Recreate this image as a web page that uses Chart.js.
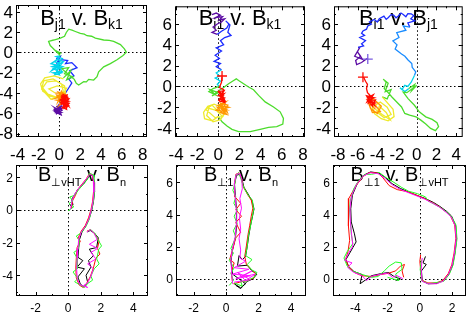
<!DOCTYPE html>
<html>
<head>
<meta charset="utf-8">
<script src="https://cdn.jsdelivr.net/npm/chart.js@4.4.0/dist/chart.umd.min.js"></script>
<style>
  html, body { margin: 0; padding: 0; background: #fff; }
  #wrap { position: relative; width: 469px; height: 318px; overflow: hidden; }
  canvas { position: absolute; left: 0; top: 0; }
</style>
</head>
<body>
<div id="wrap">
  <canvas id="c1" width="469" height="318"></canvas>
  <canvas id="c2" width="469" height="318"></canvas>
  <canvas id="c3" width="469" height="318"></canvas>
  <canvas id="c4" width="469" height="318"></canvas>
  <canvas id="c5" width="469" height="318"></canvas>
  <canvas id="c6" width="469" height="318"></canvas>
</div>
<script>
// ---- hodogram data, [x, y] pairs ----

// panel 1: Bj1 v. Bk1, one trace split into colour (time) bands
const p1Purple = [[-0.3,-5.3],[0.1,-5.5],[-0.4,-5.7],[0.2,-5.9],[-0.2,-6.0],[-0.5,-5.6],[0.0,-5.4],[0.25,-5.7],[-0.35,-5.9],[-0.1,-5.2],[0.15,-6.05],[-0.45,-5.45],[0.05,-5.75],[-0.25,-5.5],[0.2,-5.35],[-0.4,-5.85],[0.1,-6.1],[-0.15,-5.65],[0.3,-5.55],[-0.5,-5.75],[-0.05,-5.95],[0.2,-5.2],[-0.3,-6.1],[0.0,-5.3]];
const p1Blue = [[0.0,-5.3],[0.4,-4.3],[0.9,-3.5],[1.2,-3.0],[0.9,-2.6],[1.4,-2.3],[1.0,-1.8],[1.7,-1.5],[1.2,-1.0],[0.6,-1.1],[0.8,-0.8],[0.2,-0.7],[-0.2,-1.0],[0.1,-0.4],[-0.3,-0.6],[0.0,-0.5]];
const p1Cyan = [[0.0,-0.5],[-0.5,-0.9],[0.2,-1.1],[-0.7,-1.4],[0.1,-1.6],[-0.4,-1.2],[0.3,-1.9],[-0.6,-2.0],[0.0,-2.2],[-0.3,-1.7],[0.35,-1.4],[-0.8,-1.1],[-0.2,-0.7],[0.4,-0.9],[-0.6,-1.6],[0.2,-2.0],[-0.45,-2.2],[0.1,-1.3],[-0.75,-1.8],[0.3,-0.6],[-0.3,-0.4],[0.1,-0.3]];
const p1Green = [[0.1,-0.3],[-0.3,0.1],[0.2,-0.1],[-0.4,0.2],[-0.87,0.68],[-1.03,1.1],[-0.54,1.23],[0.1,1.42],[0.5,1.6],[0.67,1.97],[0.9,2.3],[1.22,2.2],[1.54,2.07],[2.02,1.88],[2.4,1.8],[2.66,1.65],[3.1,1.6],[3.46,1.42],[4.26,1.23],[4.8,1.2],[5.22,1.1],[5.87,0.78],[6.25,0.36],[6.44,0.03],[6.12,-0.29],[5.54,-0.71],[4.9,-1.1],[4.26,-1.42],[3.78,-1.91],[3.62,-2.39],[3.3,-2.72],[2.82,-2.65],[2.6,-2.9],[2.34,-2.88],[1.86,-3.2],[1.63,-3.04],[1.44,-2.65],[1.06,-2.33],[0.58,-1.91],[0.26,-1.59],[0.9,-1.5],[0.5,-2.1],[1.3,-2.4],[0.7,-2.7],[1.1,-1.8],[0.4,-2.5]];
const p1Yellow = [[0.4,-2.6],[-0.5,-2.3],[-1.4,-2.5],[-1.8,-3.1],[-1.6,-3.8],[-0.9,-4.3],[0.0,-4.5],[0.6,-4.0],[0.5,-3.3],[-0.3,-2.8],[-1.2,-2.9],[-1.6,-3.5],[-1.1,-4.1],[-0.3,-4.4],[0.4,-3.9],[0.2,-3.1],[-0.6,-2.6],[-1.5,-2.8],[-1.7,-3.6],[-0.8,-4.6],[0.3,-4.2],[0.7,-3.5],[-0.2,-3.3],[-1.0,-3.6],[-0.4,-4.0]];
const p1Orange = [[-0.4,-4.0],[0.3,-4.0],[-0.2,-4.3],[0.6,-4.5],[-0.3,-4.7],[0.4,-4.9],[0.0,-5.2],[0.7,-4.2],[-0.1,-3.9],[0.5,-4.7],[0.1,-4.4],[-0.35,-4.5],[0.45,-4.1],[-0.15,-4.9],[0.2,-3.8],[0.65,-4.4],[-0.25,-4.2],[0.3,-5.0]];
const p1Red = [[0.3,-4.1],[0.8,-4.4],[0.2,-4.6],[0.9,-4.8],[0.25,-5.0],[0.85,-5.2],[0.3,-5.4],[0.7,-5.6],[0.5,-4.3],[0.15,-4.9],[0.9,-4.6],[0.4,-5.3],[0.75,-4.2],[0.2,-4.4],[0.6,-5.0],[0.35,-4.7],[0.8,-5.4],[0.5,-4.9],[0.65,-4.5],[0.1,-4.7],[0.95,-5.0],[0.45,-5.5],[0.25,-4.25],[0.85,-4.55],[0.15,-5.15],[0.7,-4.8],[0.4,-4.45],[0.9,-5.3],[0.3,-4.85],[0.6,-5.25],[0.55,-4.15]];

// panel 2: Bi1 v. Bk1
const p2Purple = [[-0.6,6.9],[-0.2,7.05],[0.2,6.85],[-0.3,6.6],[0.4,6.7],[0.1,6.4],[0.6,6.5],[0.3,6.2],[-0.1,6.0],[-0.5,5.7],[-0.2,5.4],[-0.6,5.2],[-0.1,5.0]];
const p2Blue = [[-0.1,5.0],[0.3,5.3],[0.8,5.6],[1.0,6.0],[0.7,6.3],[1.1,5.9],[0.9,5.2],[1.2,4.9],[0.6,4.7],[0.2,4.4],[0.5,4.0],[-0.2,3.7],[0.3,3.4],[-0.3,3.0],[0.1,2.7],[-0.4,2.4],[0.2,2.2],[-0.2,1.9],[0.3,1.6]];
const p2Cyan = [[0.3,1.6],[-0.2,1.3],[0.1,1.0],[-0.3,0.8],[0.2,0.5],[-0.1,0.2],[0.1,0.0]];
const p2Green = [[0.1,0.0],[-0.5,-0.2],[-0.9,-0.5],[-0.3,-0.8],[-0.8,-0.3],[0.0,-0.6],[-0.6,-0.9],[0.2,-0.3],[0.35,-0.22],[0.97,0.25],[1.45,0.57],[1.7,0.73],[1.92,0.57],[2.39,0.25],[2.86,-0.06],[3.33,-0.32],[3.81,-0.86],[4.43,-1.49],[5.22,-1.97],[5.85,-2.44],[6.16,-3.08],[6.1,-3.62],[5.53,-3.87],[4.75,-3.94],[3.96,-4.13],[3.02,-4.35],[1.92,-4.35],[1.29,-4.13],[0.82,-3.81],[0.35,-3.4],[0.03,-2.92]];
const p2Yellow = [[0.0,-2.9],[-0.6,-3.3],[-1.3,-3.1],[-1.4,-2.5],[-1.0,-1.9],[-0.4,-1.7],[0.3,-2.0],[0.6,-2.6],[0.2,-3.2],[-0.5,-3.4],[-1.1,-2.8],[-0.9,-2.1],[-0.2,-2.3],[0.4,-2.9],[-0.3,-3.0],[-1.2,-2.2],[-0.6,-1.8],[0.1,-2.5]];
const p2Orange = [[0.1,-2.5],[0.8,-2.7],[0.3,-2.2],[1.0,-2.0],[0.0,-1.8],[0.7,-1.5],[-0.2,-2.3],[0.6,-2.4],[0.2,-1.6],[0.9,-1.8],[0.4,-2.6],[-0.1,-2.0],[0.75,-2.2],[0.25,-1.9],[0.85,-2.5],[0.4,-1.3]];
const p2Red = [[0.4,-1.3],[0.1,-1.5],[0.6,-1.1],[0.0,-0.9],[0.55,-0.7],[0.1,-1.2],[0.65,-1.4],[0.2,-0.6],[0.5,-0.9],[0.05,-1.35],[0.6,-1.55],[0.15,-0.8],[0.45,-1.2],[0.0,-0.5],[0.55,-0.4],[0.2,-1.0],[0.5,-0.3],[0.1,-0.1],[0.3,0.4],[0.35,0.9]];
const p2Cross = [[0.35,1.0]];

// panel 3: Bi1 v. Bj1
const p3Purple = [[-5.0,2.7],[-5.6,2.3],[-6.1,2.1],[-6.2,2.5],[-5.7,2.9],[-6.0,3.3],[-5.5,2.6],[-6.3,2.9],[-5.8,3.7],[-5.95,3.75]];
const p3Blue = [[-5.95,3.75],[-5.4,3.9],[-5.6,4.1],[-5.2,4.4],[-5.78,4.7],[-5.3,4.9],[-5.6,5.1],[-5.46,5.33],[-5.1,5.5],[-4.97,5.81],[-4.6,6.0],[-4.8,6.2],[-4.31,6.44],[-4.0,6.2],[-3.8,6.5],[-3.33,6.76],[-3.1,6.45],[-2.9,6.6],[-2.6,6.9],[-2.35,6.86],[-2.1,6.6],[-1.9,6.75],[-1.6,7.05],[-1.37,6.92],[-1.1,6.7],[-0.9,7.0],[-0.56,6.98],[-0.3,6.8],[-0.6,6.5],[-0.2,6.3],[-0.9,6.1],[-0.7,5.7]];
const p3Sky = [[-0.7,5.7],[-1.37,5.81],[-1.1,5.4],[-2.03,5.17],[-1.8,4.7],[-2.42,4.38],[-2.0,4.0],[-2.19,3.59],[-1.54,3.11],[-1.2,2.9],[-0.88,2.54],[-0.5,2.2],[-0.46,1.84],[-0.1,1.4],[-0.23,1.05]];
const p3Cyan = [[-0.23,1.05],[-0.56,0.41],[-0.9,0.0],[-1.21,0.1],[-1.5,-0.3],[-1.7,-0.13],[-1.2,-0.5],[-0.8,-0.2]];
const p3Green = [[-0.8,-0.2],[-0.2,0.2],[-0.5,-0.4],[0.0,0.1],[-1.0,-0.6],[-1.37,-0.54],[-0.88,-1.17],[-0.23,-1.81],[0.26,-2.44],[0.92,-2.92],[1.57,-3.17],[2.06,-3.49],[2.22,-3.87],[1.9,-4.25],[1.41,-4.03],[0.92,-3.62],[0.42,-3.24],[-0.07,-2.92],[-0.72,-2.76],[-1.21,-2.6],[-1.54,-1.97],[-2.03,-1.49],[-2.52,-1.02],[-2.9,-0.6],[-3.3,-0.2],[-3.1,0.4],[-3.4,0.7],[-2.9,0.3],[-3.2,-0.5],[-2.6,-0.3],[-3.0,-1.2],[-3.5,-1.0]];
const p3Yellow = [[-3.5,-1.0],[-2.4,-2.2],[-2.3,-2.9],[-2.9,-3.3],[-3.6,-3.1],[-4.3,-2.6],[-4.5,-2.0],[-3.7,-1.5],[-3.0,-2.0],[-2.6,-2.7],[-3.3,-3.0],[-4.0,-2.5],[-3.8,-1.9],[-3.1,-2.5],[-2.7,-3.2],[-3.5,-2.7],[-4.2,-2.2]];
const p3Orange = [[-4.2,-2.2],[-4.9,-1.5],[-4.4,-1.2],[-3.6,-1.9],[-4.0,-2.6],[-4.7,-2.1],[-5.0,-1.3],[-4.3,-1.7],[-3.7,-2.4],[-4.5,-2.5],[-4.8,-1.8]];
const p3Red = [[-4.8,-1.8],[-4.2,-1.6],[-5.0,-1.3],[-4.3,-1.1],[-5.1,-0.9],[-4.5,-1.9],[-4.2,-1.3],[-4.9,-1.6],[-4.4,-0.8],[-5.0,-1.1],[-4.6,-1.5],[-4.3,-1.8],[-4.85,-0.75],[-4.5,-1.2],[-5.05,-1.5],[-4.7,-0.9],[-5.0,-0.6],[-5.1,-0.2],[-5.0,0.2],[-5.2,0.5],[-5.4,0.9]];
const p3RedCross = [[-5.46,0.89]];
const p3PurpleCross = [[-4.97,2.63]];

// panel 4: B⊥vHT v. Bn, four overlaid traces
const p4Black = [[0.25,0.15],[0.1,0.35],[0.3,0.3],[0.22,0.65],[0.4,0.95],[0.62,1.3],[0.95,1.6],[1.2,1.95],[1.35,2.15],[1.52,2.1],[1.6,1.7],[1.62,1.1],[1.55,0.5],[1.45,0.0],[1.3,-0.5],[1.1,-0.95],[0.85,-1.35],[0.7,-1.8],[0.65,-2.3],[0.6,-2.9],[0.9,-3.1],[0.55,-3.5],[1.0,-3.6],[0.6,-4.1],[0.75,-4.55],[0.98,-4.7],[1.2,-4.45],[1.1,-4.0],[1.4,-3.5],[1.25,-3.1],[1.55,-2.8],[1.3,-2.4],[1.75,-2.3],[1.85,-1.7],[1.6,-1.4],[1.35,-1.25],[1.2,-1.35]];
const p4Red = [[0.2,0.1],[0.28,0.6],[0.45,0.9],[0.58,1.25],[0.9,1.65],[1.12,1.92],[1.3,2.22],[1.46,2.18],[1.55,1.75],[1.56,1.15],[1.5,0.52],[1.4,0.02],[1.25,-0.48],[1.05,-0.95],[0.8,-1.3],[0.6,-1.75],[0.75,-1.9],[0.55,-2.3],[0.5,-2.95],[0.47,-3.55],[0.5,-4.15],[0.68,-4.6],[0.93,-4.75],[1.13,-4.5],[1.35,-4.1],[1.55,-3.55],[1.7,-2.95],[1.95,-2.7],[1.8,-2.35],[1.9,-1.9],[1.62,-1.45],[1.38,-1.2],[1.15,-1.3]];
const p4Green = [[0.0,-0.05],[0.35,0.2],[0.05,0.4],[0.3,0.55],[0.1,0.8],[0.4,0.9],[0.65,1.25],[0.95,1.6],[1.2,1.9],[1.3,2.25],[1.55,2.15],[1.58,1.7],[1.62,1.15],[1.55,0.55],[1.45,0.05],[1.3,-0.55],[1.1,-1.0],[0.8,-1.4],[0.5,-1.6],[0.7,-1.85],[0.62,-2.4],[0.35,-2.6],[0.58,-3.0],[0.55,-3.6],[0.3,-3.8],[0.6,-4.2],[0.4,-4.4],[0.75,-4.6],[1.0,-4.75],[1.2,-4.5],[1.5,-4.3],[1.4,-4.05],[1.6,-3.6],[1.9,-3.3],[1.75,-3.0],[1.88,-2.4],[2.05,-2.2],[1.82,-1.8],[1.65,-1.45],[1.4,-1.2],[1.2,-1.3]];
const p4Magenta = [[0.15,0.05],[0.25,0.62],[0.38,0.93],[0.6,1.28],[0.9,1.62],[1.15,1.95],[1.32,2.18],[1.5,2.12],[1.56,1.72],[1.58,1.1],[1.52,0.5],[1.42,0.0],[1.28,-0.52],[1.06,-1.0],[0.82,-1.32],[0.65,-1.78],[0.6,-2.35],[0.56,-2.95],[0.52,-3.58],[0.56,-4.2],[0.72,-4.58],[1.2,-4.75],[0.98,-4.6],[1.18,-4.48],[1.38,-4.1],[1.55,-3.6],[1.2,-3.3],[1.7,-3.0],[1.4,-2.6],[1.82,-2.35],[1.3,-2.1],[1.78,-1.8],[1.6,-1.45],[1.36,-1.2],[1.15,-1.35]];

// panel 5: B⊥1 v. Bn
const p5Black = [[0.5,-0.3],[0.9,-0.55],[1.2,-0.3],[0.4,0.3],[0.3,1.1],[0.4,1.8],[0.58,2.6],[0.66,3.4],[0.65,4.25],[0.58,5.1],[0.52,5.9],[0.65,6.45],[0.85,6.5],[0.98,6.2],[1.1,5.7],[1.4,5.2],[1.6,4.85],[1.72,4.35],[1.62,3.85],[1.5,3.3],[1.4,2.7],[1.3,2.0],[1.2,1.4],[1.0,1.2],[0.8,1.45],[0.7,0.8],[1.3,0.85],[1.6,0.5],[1.9,0.3],[1.65,0.0],[1.3,-0.15],[0.9,-0.6],[0.6,-0.4]];
const p5Red = [[0.4,-0.2],[0.32,0.4],[0.5,1.0],[0.22,1.2],[0.38,1.75],[0.6,2.55],[0.9,2.9],[0.6,3.5],[0.95,3.9],[0.6,4.3],[0.9,4.7],[0.55,5.1],[0.52,5.85],[0.6,6.5],[0.8,6.6],[0.95,6.25],[1.05,5.75],[1.35,5.2],[1.55,4.9],[1.65,4.4],[1.55,3.9],[1.45,3.3],[1.35,2.75],[1.25,2.05],[1.15,1.4],[1.25,0.9],[1.55,0.6],[1.8,0.35],[1.7,0.05],[1.3,-0.1],[0.85,-0.2],[0.45,-0.3]];
const p5Green = [[0.2,-0.4],[0.45,-0.1],[0.3,0.35],[0.5,0.7],[0.2,1.15],[0.45,1.6],[0.3,1.9],[0.6,2.6],[0.45,3.0],[0.68,3.45],[0.5,3.9],[0.7,4.3],[0.48,4.7],[0.6,5.1],[0.42,5.5],[0.55,5.95],[0.6,6.45],[0.78,6.6],[0.92,6.2],[1.1,5.65],[1.4,5.15],[1.62,4.9],[1.7,4.3],[1.6,3.8],[1.52,3.35],[1.38,2.7],[1.3,2.0],[1.2,1.45],[1.6,1.2],[1.3,0.9],[1.6,0.55],[1.9,0.4],[1.72,0.1],[1.3,-0.12],[0.9,-0.15],[1.0,-0.45],[0.5,-0.25]];
const p5Magenta = [[0.4,-0.3],[0.35,0.3],[0.3,1.2],[0.38,1.8],[0.56,2.6],[0.64,3.45],[0.63,4.3],[0.56,5.1],[0.5,5.9],[0.63,6.5],[0.84,6.55],[0.97,6.2],[1.0,5.6],[0.85,5.0],[0.95,4.4],[0.82,3.8],[0.9,3.1],[0.8,2.5],[0.9,1.8],[0.85,1.3],[1.2,1.1],[0.5,0.7],[1.4,0.6],[0.4,0.3],[1.5,0.2],[0.6,0.0],[1.6,0.5],[0.9,0.1],[1.8,0.3],[1.2,-0.1],[0.7,0.4],[1.5,-0.05],[0.5,-0.2]];

// panel 6: B⊥1 v. B⊥vHT
const p6Black = [[0.35,1.4],[0.2,1.0],[0.4,0.9],[0.1,0.5],[0.15,-0.1],[0.5,-0.3],[1.05,-0.28],[1.45,-0.1],[1.8,0.3],[2.03,0.85],[2.17,1.6],[2.28,2.5],[2.22,3.3],[1.97,3.9],[1.66,4.2],[1.25,4.5],[0.85,4.75],[0.33,5.0],[-0.2,5.2],[-0.7,5.4],[-1.2,5.62],[-1.72,5.92],[-2.13,6.3],[-2.55,6.58],[-3.05,6.65],[-3.47,6.45],[-3.88,5.92],[-4.18,5.2],[-4.28,4.36],[-4.25,3.54],[-4.05,2.8],[-3.95,2.3],[-4.15,1.95],[-4.35,1.6],[-4.58,1.2],[-4.42,0.78],[-4.08,0.46],[-3.58,0.27],[-3.7,-0.3],[-3.0,0.2],[-2.45,0.32],[-1.95,0.4],[-1.6,0.15],[-1.2,0.0],[-1.5,-0.1]];
const p6Red = [[0.05,1.5],[0.0,1.1],[0.05,0.55],[0.12,-0.08],[0.5,-0.25],[1.0,-0.25],[1.42,-0.1],[1.76,0.33],[1.98,0.88],[2.12,1.6],[2.23,2.52],[2.16,3.35],[1.92,3.87],[1.6,4.18],[1.2,4.5],[0.8,4.73],[0.28,5.0],[-0.24,5.22],[-0.75,5.42],[-1.4,5.55],[-1.9,5.8],[-2.3,6.3],[-2.6,6.58],[-3.1,6.62],[-3.5,6.38],[-3.95,5.8],[-4.4,5.0],[-4.45,4.2],[-4.4,3.3],[-4.35,2.4],[-4.45,1.7],[-4.6,1.2],[-4.4,0.75],[-4.05,0.4],[-3.6,0.2],[-2.95,0.15],[-2.4,0.28],[-1.95,0.35],[-1.5,0.5],[-1.2,0.8],[-0.95,0.9],[-1.1,0.5],[-1.0,0.1]];
const p6Green = [[0.1,1.2],[0.02,0.6],[0.12,-0.12],[0.55,-0.3],[1.05,-0.22],[1.48,-0.15],[1.82,0.28],[2.05,0.84],[2.18,1.55],[2.3,2.48],[2.24,3.35],[2.0,3.82],[1.7,4.12],[1.3,4.42],[0.9,4.65],[0.5,4.85],[0.35,5.1],[-0.15,5.3],[-0.7,5.45],[-1.15,5.7],[-1.6,6.0],[-2.1,6.3],[-2.5,6.6],[-3.0,6.5],[-3.4,6.5],[-3.8,6.1],[-4.1,5.6],[-4.3,4.9],[-4.35,4.3],[-4.3,3.6],[-4.25,2.8],[-4.15,2.2],[-4.5,1.7],[-4.7,1.3],[-4.5,0.8],[-4.2,0.5],[-3.65,0.3],[-3.0,0.1],[-2.6,0.15],[-2.2,0.5],[-1.9,0.8],[-1.5,1.05],[-1.15,1.0],[-1.1,0.6],[-1.5,0.3],[-1.3,-0.1],[-2.0,0.1]];
const p6Magenta = [[0.15,1.3],[0.08,0.55],[0.14,-0.15],[0.5,-0.3],[1.03,-0.3],[1.44,-0.14],[1.78,0.3],[2.0,0.86],[2.14,1.58],[2.25,2.5],[2.18,3.32],[1.95,3.84],[1.62,4.15],[1.22,4.46],[0.8,4.7],[0.3,4.96],[-0.22,5.17],[-0.73,5.37],[-1.25,5.58],[-1.75,5.88],[-2.17,6.26],[-2.58,6.54],[-3.07,6.6],[-3.5,6.4],[-3.92,5.88],[-4.23,5.18],[-4.33,4.35],[-4.3,3.52],[-4.22,2.7],[-4.15,2.05],[-4.45,1.55],[-4.65,1.15],[-4.2,1.0],[-4.48,0.72],[-4.12,0.42],[-3.6,0.22],[-3.3,-0.1],[-2.98,0.17],[-2.47,0.28],[-2.0,0.36],[-1.7,0.1],[-1.45,0.22],[-1.05,0.02]];

// ---- styles ----
const FONT = '"Liberation Sans", Arial, Helvetica, sans-serif';
const PURPLE = '#5c0ca4', BLUE = '#1c2cff', SKY = '#1a8cff', CYAN = '#00d4ec',
      GREEN = '#4cdc2c', YELLOW = '#eeea2c', ORANGE = '#ff9600', RED = '#ff0a00';
const BLACK = '#000000', LIME = '#22ff22', MAGENTA = '#ff10ff';

const topRow = { top: 5, bottom: 137, tickFont: 17, labelY: 23, titleSize: 22, subSize: 14, titleY: 25, subDrop: 4, major: 4, minor: 2, lineW: 1.3 };
const botRow = { top: 165, bottom: 296, tickFont: 12, labelY: 16, titleSize: 20, subSize: 11, titleY: 181, subDrop: 5, major: 4, minor: 2, lineW: 1 };

const panels = [
  { id: 'c1', row: topRow, left: 16, right: 147, x: [-4.16, 8.42], y: [-8.33, 4.68],
    title: [['B', 0], ['j1', 1], [' v. ', 0], ['B', 0], ['k1', 1]],
    traces: [[p1Purple, PURPLE], [p1Blue, BLUE], [p1Cyan, CYAN], [p1Green, GREEN], [p1Yellow, YELLOW], [p1Orange, ORANGE], [p1Red, RED]],
    marks: [] },
  { id: 'c2', row: topRow, left: 175, right: 305, x: [-4.1, 8.2], y: [-4.86, 7.7],
    title: [['B', 0], ['i1', 1], [' v. ', 0], ['B', 0], ['k1', 1]],
    traces: [[p2Purple, PURPLE], [p2Blue, BLUE], [p2Cyan, CYAN], [p2Green, GREEN], [p2Yellow, YELLOW], [p2Orange, ORANGE], [p2Red, RED]],
    marks: [[p2Cross, RED]] },
  { id: 'c3', row: topRow, left: 334, right: 467, x: [-8.4, 4.67], y: [-4.86, 7.7],
    title: [['B', 0], ['i1', 1], [' v. ', 0], ['B', 0], ['j1', 1]],
    traces: [[p3Purple, PURPLE], [p3Blue, BLUE], [p3Sky, SKY], [p3Cyan, CYAN], [p3Green, GREEN], [p3Yellow, YELLOW], [p3Orange, ORANGE], [p3Red, RED]],
    marks: [[p3RedCross, RED], [p3PurpleCross, '#7a5ce0']] },
  { id: 'c4', row: botRow, left: 16, right: 148, x: [-3.2, 4.9], y: [-5.27, 2.76],
    title: [['B', 0], ['\u22a5vHT', 1], [' v. ', 0], ['B', 0], ['n', 1]],
    traces: [[p4Black, BLACK], [p4Red, RED], [p4Green, LIME], [p4Magenta, MAGENTA]],
    marks: [] },
  { id: 'c5', row: botRow, left: 176, right: 306, x: [-3.08, 4.92], y: [-1.06, 7.08],
    title: [['B', 0], ['\u22a51', 1], [' v. ', 0], ['B', 0], ['n', 1]],
    traces: [[p5Black, BLACK], [p5Red, RED], [p5Green, LIME], [p5Magenta, MAGENTA]],
    marks: [] },
  { id: 'c6', row: botRow, left: 333, right: 466, x: [-5.38, 2.86], y: [-1.06, 7.08],
    title: [['B', 0], ['\u22a51', 1], [' v. ', 0], ['B', 0], ['\u22a5vHT', 1]],
    traces: [[p6Black, BLACK], [p6Red, RED], [p6Green, LIME], [p6Magenta, MAGENTA]],
    marks: [] }
];

// values of major ticks from the scale, falling back to the step grid
function majorValues(scale, step) {
  let vals = (scale.ticks || []).map(t => t.value)
    .filter(v => Math.abs(v / step - Math.round(v / step)) < 1e-6);
  if (!vals.length) {
    vals = [];
    for (let v = Math.ceil(scale.min / step) * step; v <= scale.max + 1e-9; v += step) vals.push(v);
  }
  return vals;
}

function minorValues(scale, step) {
  const vals = [];
  for (let v = Math.ceil(scale.min / step) * step; v <= scale.max + 1e-9; v += step) vals.push(v);
  return vals;
}

// box, inward ticks on all four sides, tick labels, dotted zero lines and title
const framePlugin = {
  id: 'frame',
  beforeDatasetsDraw(chart, args, o) {
    const { ctx, chartArea: a, scales: { x, y } } = chart;
    ctx.save();
    ctx.strokeStyle = '#000';
    ctx.lineWidth = 1;
    ctx.setLineDash([1.5, 2.5]);
    const x0 = Math.round(x.getPixelForValue(0)) + 0.5;
    const y0 = Math.round(y.getPixelForValue(0)) + 0.5;
    ctx.beginPath();
    ctx.moveTo(x0, a.top); ctx.lineTo(x0, a.bottom);
    ctx.moveTo(a.left, y0); ctx.lineTo(a.right, y0);
    ctx.stroke();
    ctx.setLineDash([]);

    // title with subscripts
    let total = 0;
    const parts = o.title.map(([txt, sub]) => {
      ctx.font = (sub ? o.subSize : o.titleSize) + 'px ' + FONT;
      const w = ctx.measureText(txt).width;
      total += w;
      return { txt, sub, w };
    });
    let tx = (a.left + a.right) / 2 - total / 2;
    ctx.fillStyle = '#000';
    ctx.textAlign = 'left';
    ctx.textBaseline = 'alphabetic';
    parts.forEach(p => {
      ctx.font = (p.sub ? o.subSize : o.titleSize) + 'px ' + FONT;
      ctx.fillText(p.txt, tx, o.titleY + (p.sub ? o.subDrop : 0));
      tx += p.w;
    });
    ctx.restore();
  },
  afterDraw(chart, args, o) {
    const { ctx, chartArea: a, scales: { x, y } } = chart;
    ctx.save();
    ctx.strokeStyle = '#000';
    ctx.lineWidth = 1;
    ctx.strokeRect(a.left + 0.5, a.top + 0.5, a.right - a.left - 1, a.bottom - a.top - 1);

    ctx.beginPath();
    const tick = (scale, vals, len) => {
      vals.forEach(v => {
        const p = Math.round(scale.getPixelForValue(v)) + 0.5;
        if (scale === x) {
          ctx.moveTo(p, a.bottom); ctx.lineTo(p, a.bottom - len);
          ctx.moveTo(p, a.top); ctx.lineTo(p, a.top + len);
        } else {
          ctx.moveTo(a.left, p); ctx.lineTo(a.left + len, p);
          ctx.moveTo(a.right, p); ctx.lineTo(a.right - len, p);
        }
      });
    };
    const xm = majorValues(x, 2), ym = majorValues(y, 2);
    tick(x, xm, o.major); tick(y, ym, o.major);
    tick(x, minorValues(x, 1), o.minor); tick(y, minorValues(y, 1), o.minor);
    ctx.stroke();

    ctx.fillStyle = '#000';
    ctx.font = o.tickFont + 'px ' + FONT;
    ctx.textAlign = 'center';
    ctx.textBaseline = 'alphabetic';
    xm.forEach(v => ctx.fillText(String(Math.round(v)), x.getPixelForValue(v), a.bottom + o.labelY));
    ctx.textAlign = 'right';
    ctx.textBaseline = 'middle';
    ym.forEach(v => ctx.fillText(String(Math.round(v)), a.left - 3, y.getPixelForValue(v) + 1));
    ctx.restore();
  }
};

function makeChart(p) {
  const n = p.traces.length;
  const datasets = p.traces.map(([pts, color], i) => ({
    data: pts.map(([x, y]) => ({ x, y })),
    showLine: true,
    borderColor: color,
    borderWidth: p.row.lineW,
    pointRadius: 0,
    fill: false,
    tension: 0,
    order: n - i
  }));
  p.marks.forEach(([pts, color]) => datasets.push({
    data: pts.map(([x, y]) => ({ x, y })),
    showLine: false,
    pointStyle: 'cross',
    pointRadius: 5,
    borderColor: color,
    borderWidth: 1.3,
    order: -1
  }));

  new Chart(document.getElementById(p.id), {
    type: 'scatter',
    data: { datasets },
    options: {
      responsive: false,
      animation: false,
      events: [],
      layout: { padding: { left: p.left, right: 469 - p.right, top: p.row.top, bottom: 318 - p.row.bottom } },
      scales: {
        x: { type: 'linear', display: false, min: p.x[0], max: p.x[1], ticks: { stepSize: 2, includeBounds: false } },
        y: { type: 'linear', display: false, min: p.y[0], max: p.y[1], ticks: { stepSize: 2, includeBounds: false } }
      },
      plugins: {
        legend: { display: false },
        tooltip: { enabled: false },
        frame: Object.assign({ title: p.title }, p.row)
      }
    },
    plugins: [framePlugin]
  });
}

panels.forEach(makeChart);
</script>
</body>
</html>
